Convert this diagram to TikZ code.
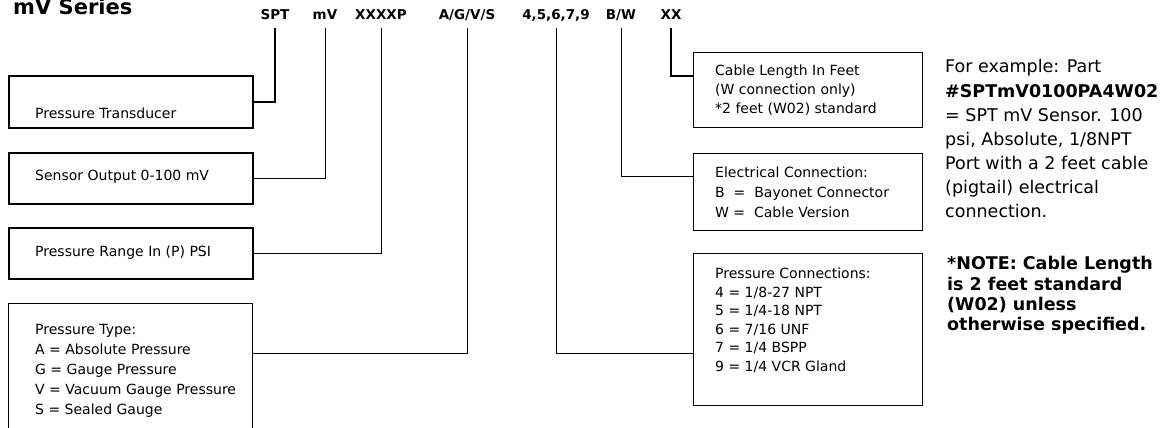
\documentclass[tikz,border=0pt]{standalone}
\usepackage{fontspec}
\setmainfont{DejaVu Sans}
\usetikzlibrary{calc}
\newcommand{\boxtxt}{\fontsize{14}{19}\selectfont}
\newcommand{\labtxt}{\fontsize{13.5}{16}\selectfont\bfseries}
\newcommand{\sidetxt}{\fontsize{17.5}{24}\selectfont}

\begin{document}
\begin{tikzpicture}[x=1pt, y=-1pt,
    bx/.style={draw, rectangle, line width=2.2pt, minimum width=244, anchor=north west, inner sep=0pt},
    rbx/.style={draw, rectangle, line width=1.4pt, minimum width=229, anchor=north west, inner sep=0pt},
    txt/.style={anchor=base west, inner sep=0pt, font=\boxtxt},
    lab/.style={anchor=base, inner sep=0pt, font=\labtxt},
    side/.style={anchor=base west, inner sep=0pt, font=\sidetxt},
    sideb/.style={anchor=base west, inner sep=0pt, font=\sidetxt\bfseries},
    conn/.style={line width=1pt}]
      \useasboundingbox (0,0) rectangle (1164,428);

      % title
      \node (title) at (13,15) [anchor=base west, inner sep=0pt, font=\fontsize{21}{24}\selectfont\bfseries] {mV Series};

      % part number code
      \node (lSPT) at (275,20) [lab] {SPT};
      \node (lmV) at (325,20) [lab] {mV};
      \node (lRange) at (381,20) [lab] {XXXXP};
      \node (lType) at (467,20) [lab] {A/G/V/S};
      \node (lPort) at (556,20) [lab] {4,5,6,7,9};
      \node (lElec) at (621,20) [lab] {B/W};
      \node (lLen) at (671,20) [lab] {XX};

      % left boxes
      \node (bTrans) at (8,75) [bx, minimum height=52] {};
      \node (tTrans) at (35,118) [txt] {Pressure Transducer};

      \node (bOut) at (8,152) [bx, minimum height=51] {};
      \node (tOut) at (35,180) [txt] {Sensor Output 0-100 mV};

      \node (bRange) at (8,227) [bx, minimum height=51] {};
      \node (tRange) at (35,256) [txt] {Pressure Range In (P) PSI};

      \node (bType) at (8,303) [bx, line width=1pt, minimum height=140] {};
      \node (tType0) at (35,334) [txt] {Pressure Type:};
      \node (tType1) at (35,354) [txt] {A = Absolute Pressure};
      \node (tType2) at (35,374) [txt] {G = Gauge Pressure};
      \node (tType3) at (35,394) [txt] {V = Vacuum Gauge Pressure};
      \node (tType4) at (35,414) [txt] {S = Sealed Gauge};
      \coordinate (jType) at (252,353);

      % right boxes
      \node (bLen) at (693,52) [rbx, minimum height=75] {};
      \node (tLen0) at (715,75) [txt] {Cable Length In Feet};
      \node (tLen1) at (715,94) [txt] {(W connection only)};
      \node (tLen2) at (715,113) [txt] {*2 feet (W02) standard};
      \coordinate (jLen) at (693,76);

      \node (bElec) at (693,153) [rbx, minimum height=77] {};
      \node (tElec0) at (715,177) [txt] {Electrical Connection:};
      \node (tElec1) at (715,197) [txt] {B\ \ =\ \ Bayonet Connector};
      \node (tElec2) at (715,217) [txt] {W =\ \ Cable Version};
      \coordinate (jElec) at (693,176);

      \node (bConn) at (693,253) [rbx, line width=1pt, minimum height=152] {};
      \node (tConn0) at (715,278) [txt] {Pressure Connections:};
      \node (tConn1) at (715,297) [txt] {4 = 1/8-27 NPT};
      \node (tConn2) at (715,315) [txt] {5 = 1/4-18 NPT};
      \node (tConn3) at (715,334) [txt] {6 = 7/16 UNF};
      \node (tConn4) at (715,352) [txt] {7 = 1/4 BSPP};
      \node (tConn5) at (715,371) [txt] {9 = 1/4 VCR Gland};
      \coordinate (jConn) at (693,353);

      % leaders
      \draw[conn, line width=2pt] ([yshift=-8pt]lSPT.base) |- (bTrans.east);
      \draw[conn] ([yshift=-8pt]lmV.base) |- (bOut.east);
      \draw[conn] ([yshift=-8pt]lRange.base) |- (bRange.east);
      \draw[conn] ([yshift=-8pt]lType.base) |- (jType);
      \draw[conn] ([yshift=-8pt]lPort.base) |- (jConn);
      \draw[conn] ([yshift=-8pt]lElec.base) |- (jElec);
      \draw[conn, line width=2pt] ([yshift=-8pt]lLen.base) |- (jLen);

      % example and note
      \node (ex0) at (945,73) [side] {For example: Part};
      \node (ex1) at (945,97) [sideb] {\#SPTmV0100PA4W02};
      \node (ex2) at (945,121) [side] {= SPT mV Sensor. 100};
      \node (ex3) at (945,145) [side] {psi, Absolute, 1/8NPT};
      \node (ex4) at (945,169) [side] {Port with a 2 feet cable};
      \node (ex5) at (945,193) [side] {(pigtail) electrical};
      \node (ex6) at (945,217) [side] {connection.};

      \node (nt0) at (947,269) [sideb] {*NOTE: Cable Length};
      \node (nt1) at (947,290) [sideb] {is 2 feet standard};
      \node (nt2) at (947,310) [sideb] {(W02) unless};
      \node (nt3) at (947,330) [sideb] {otherwise specified.};
\end{tikzpicture}
\end{document}
